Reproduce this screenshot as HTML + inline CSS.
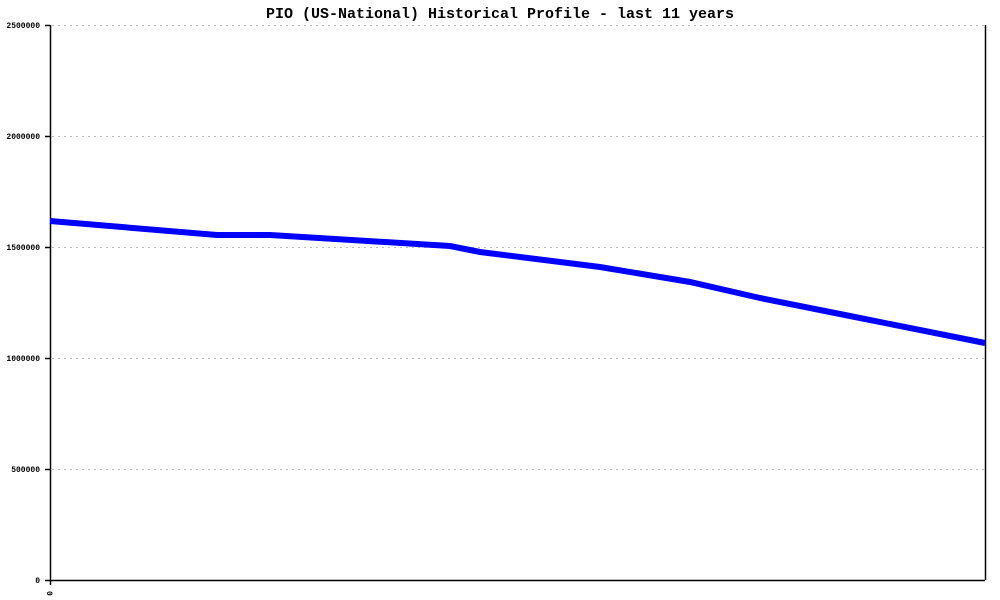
<!DOCTYPE html>
<html><head><style>body{margin:0;background:#fff}svg{display:block}</style></head><body>
<svg width="1000" height="600" xmlns="http://www.w3.org/2000/svg" font-family="Liberation Mono, monospace">
<rect width="1000" height="600" fill="#fff"/>
<text x="500" y="18" text-anchor="middle" font-size="15" font-weight="bold" fill="#000">PIO (US-National) Historical Profile - last 11 years</text>
<g stroke="#bbb" stroke-dasharray="2,4" stroke-width="1">
<line x1="52" y1="25.5" x2="985" y2="25.5"/>
<line x1="52" y1="136.5" x2="985" y2="136.5"/>
<line x1="52" y1="247.5" x2="985" y2="247.5"/>
<line x1="52" y1="358.5" x2="985" y2="358.5"/>
<line x1="52" y1="469.5" x2="985" y2="469.5"/>
</g>
<g stroke="#000" stroke-width="1.5">
<line x1="50.5" y1="25" x2="50.5" y2="585"/>
<line x1="985.5" y1="25" x2="985.5" y2="580"/>
<line x1="50" y1="580.5" x2="985" y2="580.5"/>
<line x1="45" y1="25.5" x2="50" y2="25.5"/>
<line x1="45" y1="136.5" x2="50" y2="136.5"/>
<line x1="45" y1="247.5" x2="50" y2="247.5"/>
<line x1="45" y1="358.5" x2="50" y2="358.5"/>
<line x1="45" y1="469.5" x2="50" y2="469.5"/>
<line x1="45" y1="580.5" x2="50" y2="580.5"/>
</g>
<g font-size="8" font-weight="bold" text-anchor="end" fill="#000">
<text x="40" y="28">2500000</text>
<text x="40" y="139">2000000</text>
<text x="40" y="250">1500000</text>
<text x="40" y="361">1000000</text>
<text x="40" y="472">500000</text>
<text x="40" y="583">0</text>
</g>
<text x="0" y="0" font-size="8" font-weight="bold" transform="translate(47,591) rotate(90)" fill="#000">0</text>
<polyline fill="none" stroke="#0000ff" stroke-width="6" points="50,221 217,235 270,235 450,246 480,252 600,267 690,282 760,298 850,316 985,343"/>
</svg>
</body></html>
